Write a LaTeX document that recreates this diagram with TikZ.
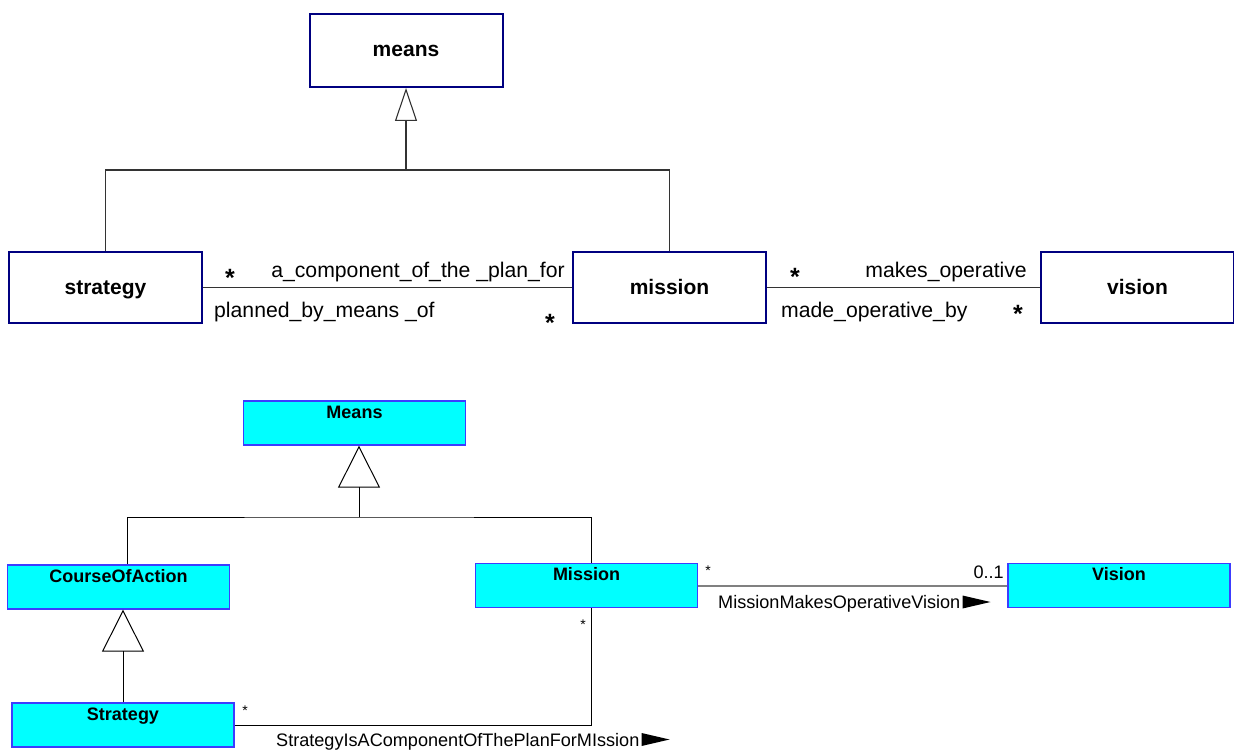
\documentclass[tikz,border=0pt]{standalone}
\usepackage{fontspec}
\setmainfont{Liberation Sans}
\usetikzlibrary{arrows.meta}
\definecolor{navyblue}{HTML}{000080}
\definecolor{clsblue}{HTML}{3C3CFF}
\definecolor{clsfill}{HTML}{00FFFF}
\definecolor{linegray}{HTML}{333333}
\definecolor{assocgray}{HTML}{808080}

\begin{document}
\begin{tikzpicture}[x=1pt, y=-1pt,
    box/.style={draw=navyblue, line width=2pt, fill=white, minimum width=193pt, minimum height=71pt, inner sep=0pt, text height=17pt, text depth=4pt, font=\bfseries\fontsize{21pt}{25pt}\selectfont},
    cls/.style={draw=clsblue, line width=1.3pt, fill=clsfill, minimum width=222pt, minimum height=44pt, inner sep=0pt, text height=17pt, text depth=27pt, font=\bfseries\fontsize{18pt}{22pt}\selectfont},
    role/.style={inner sep=0pt, font=\fontsize{21.2pt}{25pt}\selectfont},
    lbl/.style={inner sep=0pt, font=\fontsize{18.1pt}{22pt}\selectfont},
    many/.style={inner sep=0pt, font=\bfseries\fontsize{25pt}{28pt}\selectfont},
    few/.style={inner sep=0pt, font=\fontsize{14pt}{16pt}\selectfont},
    gentop/.style={line width=1.1pt, -{Triangle[open, length=33pt, width=22pt]}},
    gencls/.style={line width=1pt, -{Triangle[open, length=42pt, width=42pt]}}]
    \useasboundingbox (0,0) rectangle (1234,754);

    % business motivation model, first version
    \node[box, minimum height=73pt] (means) at (406,50.5) {means};
    \node[box] (strategy) at (105.5,287.5) {strategy};
    \node[box] (mission) at (669.5,287.5) {mission};
    \node[box] (vision) at (1137.5,287.5) {vision};
    \coordinate (meansbar) at (406,170);
    \draw[gentop, linegray] (meansbar) -- (means.south);
    \draw[line width=1.1pt, linegray] (strategy.north) |- (meansbar) -| (mission.north);
    \draw[line width=1.1pt, linegray] (strategy.east) -- (mission.west);
    \draw[line width=1.1pt, linegray] (mission.east) -- (vision.west);
    \node[many] (stratmany) at (230,278) {*};
    \node[role, anchor=base east] (compfor) at (565,277) {a\_component\_of\_the \_plan\_for};
    \node[role, anchor=base west] (plannedby) at (214,317) {planned\_by\_means \_of};
    \node[many] (missmany) at (550,323) {*};
    \node[many] (missmany2) at (795,277) {*};
    \node[role, anchor=base east] (makesop) at (1027,277) {makes\_operative};
    \node[role, anchor=base west] (madeop) at (781,317) {made\_operative\_by};
    \node[many] (vismany) at (1018,314) {*};

    % UML version
    \node[cls] (umlMeans) at (354.5,423) {Means};
    \node[cls] (umlCourse) at (118.5,587) {CourseOfAction};
    \node[cls] (umlStrategy) at (123,725) {Strategy};
    \node[cls] (umlMission) at (586.5,585.5) {Mission};
    \node[cls] (umlVision) at (1119,585.5) {Vision};
    \coordinate (umlbar) at (359,517);
    \draw[gencls] (umlbar) -- (umlbar |- umlMeans.south);
    \draw[line width=1pt] ([xshift=8.5pt]umlCourse.north) |- (umlbar) -| ([xshift=5pt]umlMission.north);
    \draw[gencls] (umlStrategy.north) -- (umlStrategy.north |- umlCourse.south);
    \draw[line width=1pt] (umlStrategy.east) -| ([xshift=5pt]umlMission.south);
    \draw[line width=2pt, assocgray] (umlMission.east) -- (umlVision.west);
    \node[few] (stratstar) at (245,710.5) {*};
    \node[few] (missstar) at (583,624.5) {*};
    \node[few] (missstar2) at (708,570.5) {*};
    \node[lbl, anchor=base east] (zeroone) at (1004,578) {0..1};
    \node[lbl, anchor=base west] (mmov) at (718,608.5) {MissionMakesOperativeVision};
    \fill (mmov.base east) ++(2,0) -- ++(0,-13) -- ++(28,6.5) -- cycle;
    \node[lbl, anchor=base west] (siac) at (276,746) {StrategyIsAComponentOfThePlanForMIssion};
    \fill (siac.base east) ++(2,0) -- ++(0,-13) -- ++(28,6.5) -- cycle;
\end{tikzpicture}
\end{document}
